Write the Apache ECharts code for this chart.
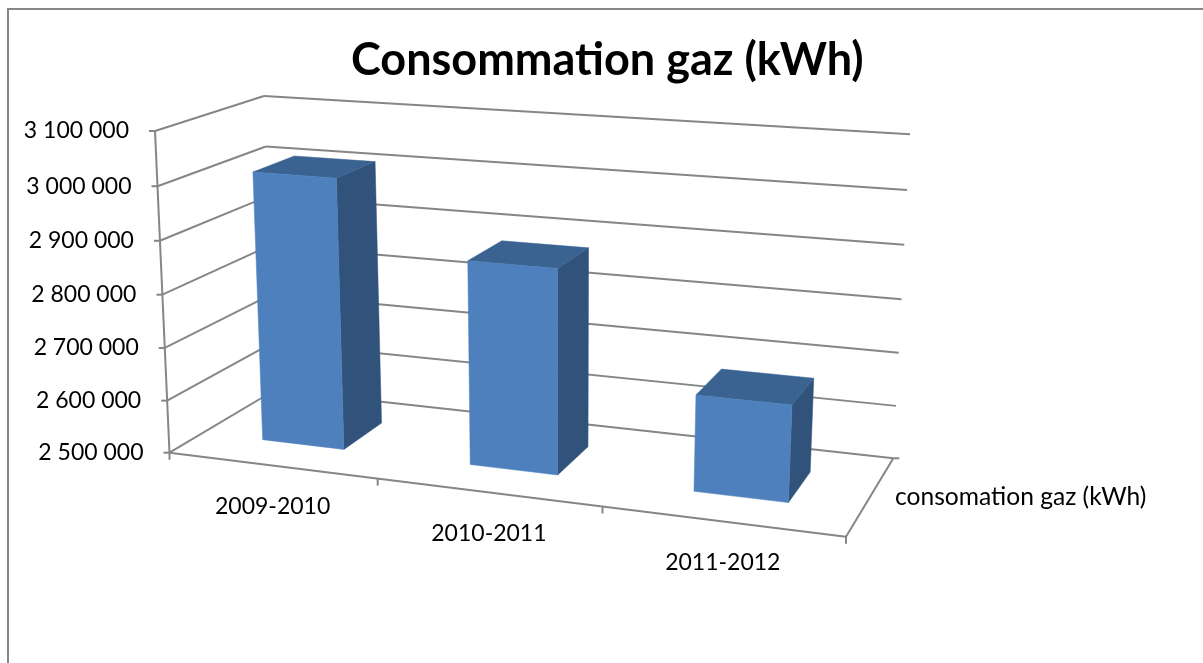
<!DOCTYPE html>
<html>
<head>
<meta charset="utf-8">
<style>html,body{margin:0;padding:0;background:#fff}#c{width:1203px;height:663px}</style>
<script src="https://cdn.jsdelivr.net/npm/echarts@6/dist/echarts.min.js"></script>
</head>
<body>
<div id="c"></div>
<script>
const categories = ['2009-2010', '2010-2011', '2011-2012'];
const seriesName = 'consomation gaz (kWh)';
const values = [3011000, 2879000, 2675000];
const axisMin = 2500000, axisMax = 3100000, axisStep = 100000;
const tickValues = [2500000, 2600000, 2700000, 2800000, 2900000, 3000000, 3100000];
const tickLabels = ['2 500 000', '2 600 000', '2 700 000', '2 800 000', '2 900 000', '3 000 000', '3 100 000'];

// View of the 3D box: floor and ceiling quads, in order front-left, front-right, back-right, back-left
const floorQuad = [[169.5, 452.7], [846, 536.7], [893.3, 458.3], [275, 390]];
const ceilQuad = [[155, 131], [863, 179], [910, 134.3], [264, 96]];
const GREY = '#868686';
const FONT = 'Lato, Carlito, sans-serif';

function homography(q) {
  const [p0, p1, p2, p3] = q;
  const dx1 = p1[0] - p2[0], dx2 = p3[0] - p2[0], sx = p0[0] - p1[0] + p2[0] - p3[0];
  const dy1 = p1[1] - p2[1], dy2 = p3[1] - p2[1], sy = p0[1] - p1[1] + p2[1] - p3[1];
  const det = dx1 * dy2 - dx2 * dy1;
  const g = (sx * dy2 - dx2 * sy) / det, h = (dx1 * sy - sx * dy1) / det;
  const a = p1[0] - p0[0] + g * p1[0], b = p3[0] - p0[0] + h * p3[0], c = p0[0];
  const d = p1[1] - p0[1] + g * p1[1], e = p3[1] - p0[1] + h * p3[1], f = p0[1];
  return (u, w) => {
    const z = g * u + h * w + 1;
    return [(a * u + b * w + c) / z, (d * u + e * w + f) / z];
  };
}
const floorH = homography(floorQuad), ceilH = homography(ceilQuad);
function project(u, v, w) {
  const a = floorH(u, w), b = ceilH(u, w);
  const t = v / (v + (1 - v) * 1.036);
  return [a[0] + (b[0] - a[0]) * t, a[1] + (b[1] - a[1]) * t];
}
function line(a, b) {
  return { type: 'line', shape: { x1: a[0], y1: a[1], x2: b[0], y2: b[1] },
    style: { stroke: GREY, lineWidth: 2, fill: null }, silent: true };
}
function poly(points, fill) {
  return { type: 'polygon', shape: { points }, style: { fill, stroke: fill, lineWidth: 0.5 } };
}
function text(str, x, y, align) {
  return { type: 'text', silent: true, style: { text: str, x, y, align, verticalAlign: 'middle',
    font: '23px ' + FONT, fill: '#000' } };
}
function normalise(params, pt) {
  const r = params.coordSys;
  return [(pt[0] - r.x) / r.width, (r.y + r.height - pt[1]) / r.height];
}

function renderFrame(params, api) {
  const ch = [];
  tickValues.forEach((val, k) => {
    const v = normalise(params, api.coord([0, val]))[1];
    const f = project(0, v, 0), b = project(0, v, 1), r = project(1, v, 1);
    ch.push(line(f, b), line(b, r));
    ch.push(line([f[0] - 6, f[1]], f));
    ch.push(text(tickLabels[k], f[0] - 26, f[1], 'right'));
  });
  const fl = project(0, 0, 0), fr = project(1, 0, 0), br = project(1, 0, 1), top = project(0, 1, 0);
  ch.push(line(fl, top), line(fl, fr), line(fr, br));
  ch.push(line(br, [br[0] + 6, br[1]]));
  for (let i = 0; i <= categories.length; i++) {
    const p = project(i / categories.length, 0, 0);
    ch.push(line(p, [p[0], p[1] + 7]));
  }
  categories.forEach((name, i) => {
    const px = api.coord([i, axisMin]);
    const p = project(normalise(params, px)[0], 0, 0);
    ch.push(text(name, p[0] + 1, p[1] + 41.5, 'center'));
  });
  return { type: 'group', children: ch };
}

function renderBar(params, api) {
  const cat = api.value(0), val = api.value(1);
  const c = normalise(params, api.coord([cat, val]));
  const band = api.size([1, 0])[0] / params.coordSys.width;
  const half = band * 0.2;
  const u0 = c[0] - half, u1 = c[0] + half, w0 = 0.3, w1 = 0.7, v = c[1];
  const FL = project(u0, 0, w0), FR = project(u1, 0, w0), BR = project(u1, 0, w1);
  const TFL = project(u0, v, w0), TFR = project(u1, v, w0), TBR = project(u1, v, w1), TBL = project(u0, v, w1);
  return { type: 'group', children: [
    poly([FR, BR, TBR, TFR], '#31527B'),
    poly([TFL, TFR, TBR, TBL], '#3B6392'),
    poly([FL, FR, TFR, TFL], '#4D80BD')
  ] };
}

const chart = echarts.init(document.getElementById('c'), null, { renderer: 'canvas' });
chart.setOption({
  animation: false,
  backgroundColor: '#fff',
  title: { text: 'Consommation gaz (kWh)', left: 346, top: 33,
    textStyle: { fontFamily: FONT, fontWeight: 'bold', fontSize: 45, color: '#000' } },
  legend: { data: [{ name: seriesName, icon: 'none' }], left: 885, top: 480, itemWidth: 0, itemGap: 0,
    selectedMode: false, textStyle: { fontFamily: FONT, fontSize: 24.6, color: '#000', padding: 0 } },
  grid: { left: 155, right: 300, top: 131, bottom: 211 },
  xAxis: { type: 'category', data: categories, show: false },
  yAxis: { type: 'value', min: axisMin, max: axisMax, interval: axisStep, show: false },
  graphic: [{ type: 'rect', shape: { x: 8, y: 9, width: 1400, height: 900 },
    style: { fill: null, stroke: GREY, lineWidth: 2 }, silent: true, z: -1 }],
  series: [
    { type: 'custom', name: 'frame', coordinateSystem: 'cartesian2d', renderItem: renderFrame,
      data: [[0, axisMin]], silent: true, z: 1, legendHoverLink: false },
    { type: 'custom', name: seriesName, coordinateSystem: 'cartesian2d', renderItem: renderBar,
      data: values.map((val, i) => [i, val]), encode: { x: 0, y: 1 }, z: 2, itemStyle: { color: '#4D80BD' } }
  ]
});
</script>
</body>
</html>
